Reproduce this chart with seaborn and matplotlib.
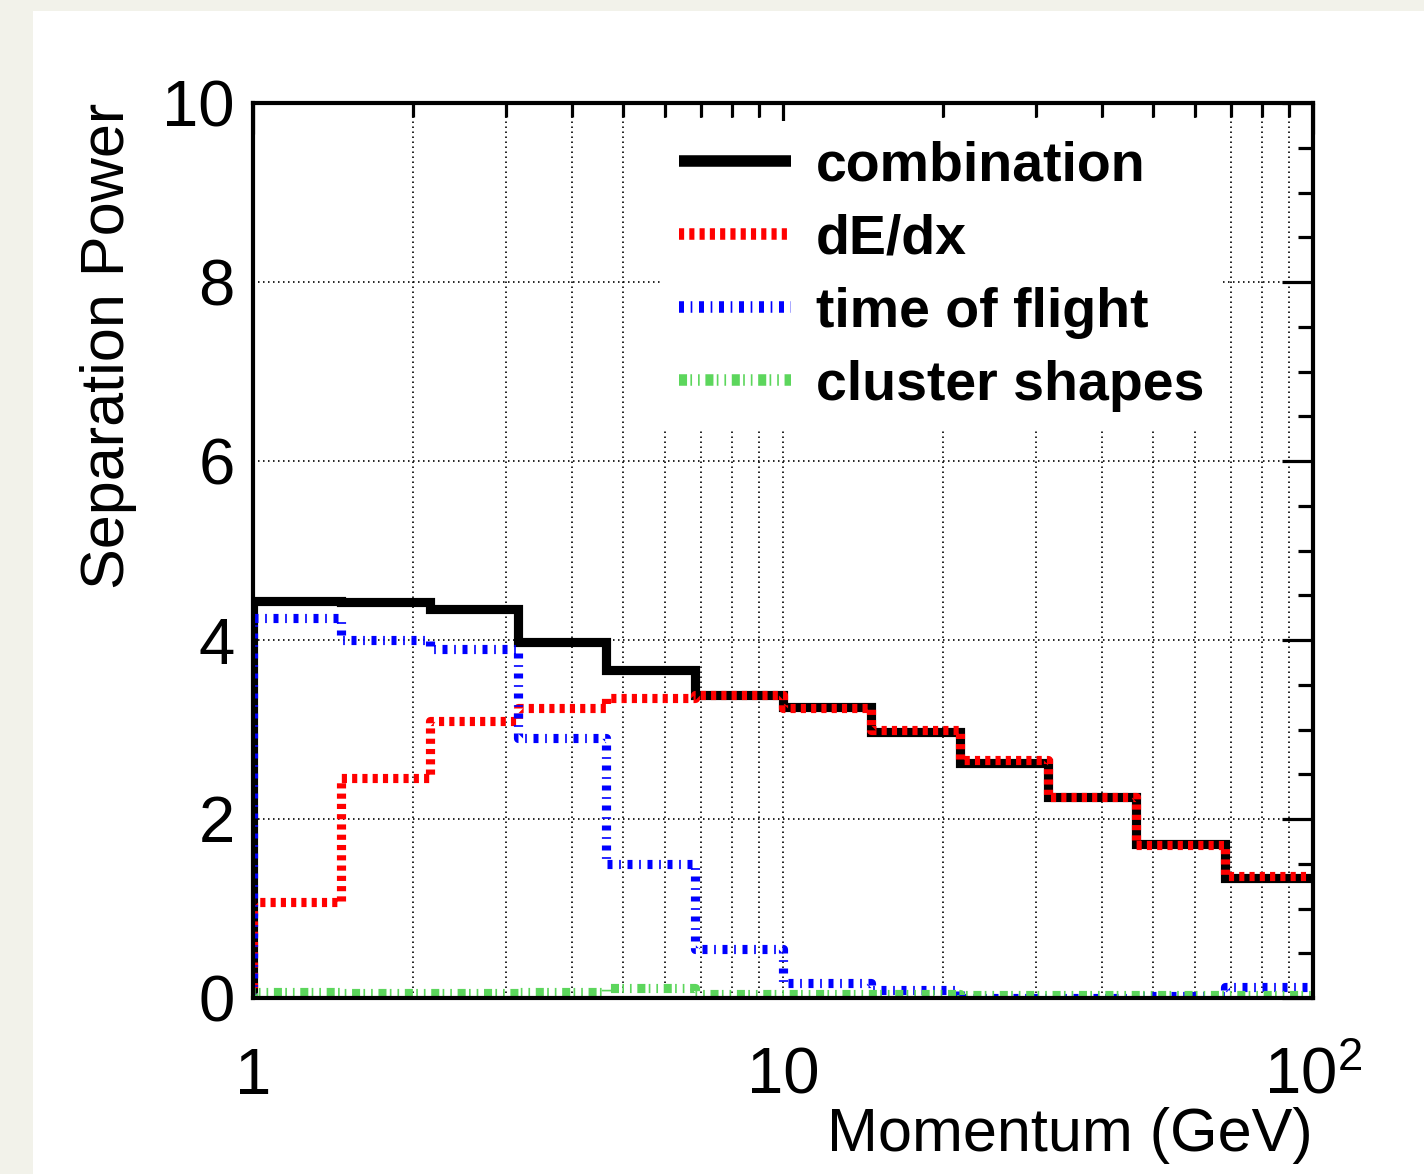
import numpy as np
import pandas as pd
import matplotlib
matplotlib.use("Agg")
import matplotlib.pyplot as plt
import seaborn as sns
from matplotlib.lines import Line2D
from matplotlib.patches import Rectangle

# ---------------- data ----------------
bin_edges = [1.0, 1.468, 2.154, 3.162, 4.642, 6.813, 10.0, 14.68, 21.54, 31.62, 46.42, 68.13, 100.0]
combination = [4.44, 4.42, 4.35, 3.98, 3.66, 3.38, 3.25, 2.97, 2.63, 2.25, 1.72, 1.34]
dedx = [1.07, 2.46, 3.10, 3.24, 3.35, 3.38, 3.24, 2.99, 2.66, 2.25, 1.71, 1.36]
time_of_flight = [4.25, 4.00, 3.90, 2.90, 1.50, 0.55, 0.17, 0.09, 0.0, 0.0, 0.02, 0.12]
cluster_shapes = [0.07, 0.06, 0.06, 0.07, 0.11, 0.04, 0.04, 0.04, 0.03, 0.03, 0.03, 0.03]
series_names = ["combination", "dE/dx", "time of flight", "cluster shapes"]
x_ticks = [1, 10, 100]
x_ticklabels = ["1", "10", r"$10^{2}$"]
y_ticks = [0, 2, 4, 6, 8, 10]

# ---------------- style ----------------
sns.set_style("white")
plt.rcParams["font.family"] = ["Liberation Sans", "DejaVu Sans"]
plt.rcParams["mathtext.fontset"] = "custom"
plt.rcParams["mathtext.rm"] = "Liberation Sans"
plt.rcParams["mathtext.it"] = "Liberation Sans"
plt.rcParams["mathtext.bf"] = "Liberation Sans:bold"
plt.rcParams["lines.scale_dashes"] = False
for key in ["text.color", "axes.labelcolor", "xtick.color", "ytick.color",
            "xtick.labelcolor", "ytick.labelcolor"]:
    plt.rcParams[key] = "black"

W, H, DPI = 1424, 1174, 100
fig = plt.figure(figsize=(W / DPI, H / DPI), dpi=DPI, facecolor="#f2f2ea")
fig.patches.append(Rectangle((33 / W, 0), 1 - 33 / W, 1 - 11 / H, transform=fig.transFigure,
                             facecolor="white", edgecolor="none", zorder=-10))

ax = fig.add_axes([253 / W, 1 - 998 / H, (1313 - 253) / W, (998 - 103) / H])
ax.set_facecolor("white")
ax.set_zorder(1)

def step_frame(values, name):
    xs = [bin_edges[0]] + list(bin_edges)
    ys = [0.0] + list(values) + [values[-1]]
    return pd.DataFrame({"x": xs, "y": ys, "series": name})

lw = 6.6
styles = {
    "combination": dict(color="black", linestyle="-"),
    "dE/dx": dict(color="#ff0000", linestyle=(0, (3.7, 3.7))),
    "time of flight": dict(color="#0000ff", linestyle=(0, (3.6, 4.8, 1.2, 4.8))),
    "cluster shapes": dict(color="#5cd65c", linestyle=(0, (5.8, 2.4, 1.2, 4.3, 1.2, 4.1))),
}
all_series = [combination, dedx, time_of_flight, cluster_shapes]
for i, (name, vals) in enumerate(zip(series_names, all_series)):
    df = step_frame(vals, name)
    sns.lineplot(data=df, x="x", y="y", estimator=None, sort=False, ax=ax,
                 drawstyle="steps-post", linewidth=lw, zorder=3 + i,
                 solid_capstyle="butt", dash_capstyle="butt", solid_joinstyle="miter",
                 legend=False, **styles[name])

ax.set_xscale("log")
ax.set_xlim(1, 100)
ax.set_ylim(0, 10)

# grid
ax.set_xticks(x_ticks)
ax.set_xticklabels(x_ticklabels)
ax.set_yticks(y_ticks)
ax.set_yticklabels([str(v) for v in y_ticks])
ax.xaxis.set_minor_locator(matplotlib.ticker.LogLocator(base=10, subs=np.arange(2, 10)))
ax.xaxis.set_minor_formatter(matplotlib.ticker.NullFormatter())
ax.yaxis.set_minor_locator(matplotlib.ticker.MultipleLocator(0.5))
gstyle = dict(color="black", linestyle=(0, (1.1, 2.5)), linewidth=1.2)
ax.grid(True, which="major", axis="both", **gstyle)
ax.grid(True, which="minor", axis="x", **gstyle)
ax.set_axisbelow(True)

for s in ax.spines.values():
    s.set_linewidth(3.0)
    s.set_color("black")
    s.set_zorder(10)

ax.tick_params(axis="both", which="both", direction="in", top=True, right=True,
               width=2.3, color="black", labelcolor="black")
ax.tick_params(axis="y", which="major", length=22, pad=13, labelsize=47)
ax.tick_params(axis="y", which="minor", length=11)
ax.tick_params(axis="x", which="major", length=22, pad=35, labelsize=47)
ax.tick_params(axis="x", which="minor", length=10)

ax.set_xlabel("Momentum (GeV)", fontsize=44, loc="right", labelpad=0, color="black")
ax.set_ylabel("Separation Power", fontsize=44, loc="top", labelpad=18, color="black")

# legend
handles = [Line2D([0], [0], linewidth=8.3, solid_capstyle="butt", dash_capstyle="butt",
                  **styles[n]) for n in series_names]
leg = ax.legend(handles, series_names, loc="upper left",
                bbox_to_anchor=((660 - 253) / 1060, (998 - 121) / 895),
                borderaxespad=0, frameon=True, fancybox=False, framealpha=1,
                facecolor="white", edgecolor="none",
                prop={"family": "Liberation Sans", "weight": "bold", "size": 40},
                handlelength=2.0, handletextpad=0.45, labelspacing=0.38, borderpad=0.35)
for t in leg.get_texts():
    t.set_color("black")
leg.set_zorder(6)

fig.savefig("out.png", dpi=DPI, facecolor=fig.get_facecolor())
